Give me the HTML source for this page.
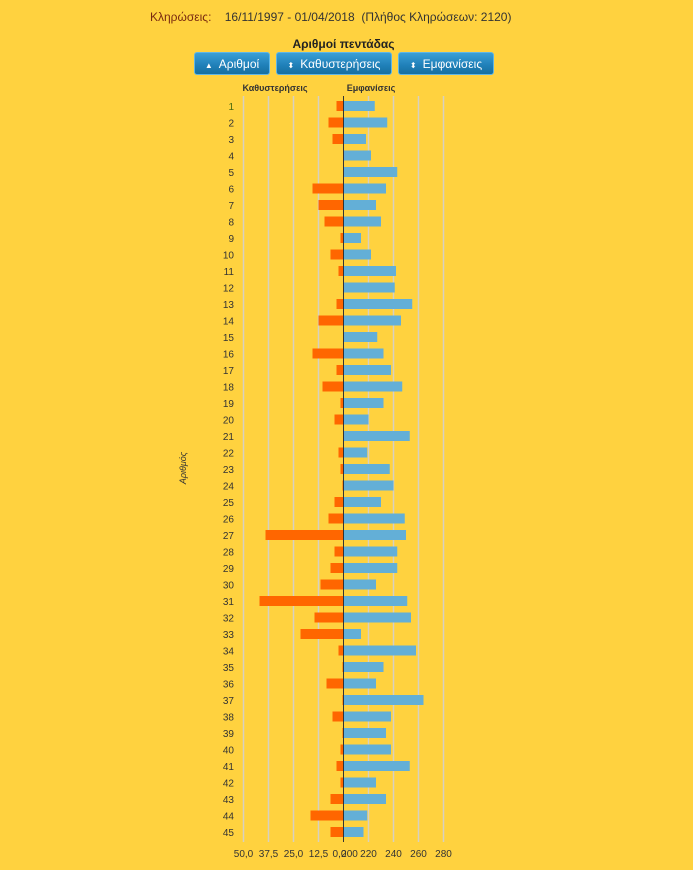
<!DOCTYPE html>
<html><head><meta charset="utf-8">
<style>
body{margin:0;background:#FFD23F;font-family:"Liberation Sans","DejaVu Sans",sans-serif;}
#wrap{position:relative;width:693px;height:870px;overflow:hidden;background:#FFD23F;}
.btn{position:absolute;top:52px;height:23px;border-radius:3px;background:linear-gradient(#3a9fd6,#1f7fb8 60%,#17709f);border:1px solid #5fb6e6;color:#fff;font-size:12px;line-height:23px;text-align:center;box-sizing:border-box;}
.btn span{font-size:8px;margin-right:6px;}
</style></head><body>
<div id="wrap">
<div style="position:absolute;left:150px;top:10px;font-size:12px;color:#333;white-space:pre;"><span style="color:#7a2a10">Κληρώσεις:</span>    16/11/1997 - 01/04/2018  (Πλήθος Κληρώσεων: 2120)</div>
<div style="position:absolute;left:0;width:687px;top:37px;text-align:center;font-size:12px;font-weight:bold;color:#222;">Αριθμοί πεντάδας</div>
<div class="btn" style="left:194px;width:76px;"><span>▲</span>Αριθμοί</div>
<div class="btn" style="left:276px;width:116px;"><span>⬍</span>Καθυστερήσεις</div>
<div class="btn" style="left:398px;width:96px;"><span>⬍</span>Εμφανίσεις</div>
<svg id="chart" width="693" height="870" style="position:absolute;left:0;top:0"></svg>
</div>
<script>
const numbers=[];for(let i=1;i<=45;i++)numbers.push(String(i));
const delays=[3.5,7.5,5.5,0,0,15.5,12.5,9.5,1.5,6.5,2.5,0,3.5,12.5,0,15.5,3.5,10.5,1.5,4.5,0,2.5,1.5,0.5,4.5,7.5,39,4.5,6.5,11.5,42,14.5,21.5,2.5,0.5,8.5,0.5,5.5,0.5,1.5,3.5,1.5,6.5,16.5,6.5];
const appearances=[225,235,218,222,243,234,226,230,214,222,242,241,255,246,227,232,238,247,232,220,253,219,237,240,230,249,250,243,243,226,251,254,214,258,232,226,264,238,234,238,253,226,234,219,216];
const delayTicks=["50,0","37,5","25,0","12,5","0,0"];
const delayTickVals=[50,37.5,25,12.5,0];
const appTicks=["200","220","240","260","280"];
const appTickVals=[200,220,240,260,280];
const NS="http://www.w3.org/2000/svg";
const svg=document.getElementById('chart');
const X0=343.5,top0=106,step=16.5,bh=10;
function xDelay(v){return X0-v*2;}
function xApp(v){return X0+(v-200)*1.25;}
function yRow(i){return top0+i*step;}
function mk(t,a){const e=document.createElementNS(NS,t);for(const k in a)e.setAttribute(k,a[k]);svg.appendChild(e);return e;}
// grid
delayTickVals.forEach((v,i)=>{
 if(v>0){const l=mk('line',{x1:xDelay(v),x2:xDelay(v),y1:96,y2:842,stroke:'#d8d0c0','stroke-width':1.5});
 
 }
 const t=mk('text',{x:xDelay(v)-(v===0?4:0),y:857,'font-size':10,'text-anchor':'middle',fill:'#333'});t.textContent=delayTicks[i];
 
 
});
appTickVals.forEach((v,i)=>{
 if(v>200){const l=mk('line',{x1:xApp(v),x2:xApp(v),y1:96,y2:842,stroke:'#d8d0c0','stroke-width':1.5});
 
 }
 const t=mk('text',{x:xApp(v)+(v===200?6:0),y:857,'font-size':10,'text-anchor':'middle',fill:'#333'});t.textContent=appTicks[i];
 
 
});
numbers.forEach((n,i)=>{
 const y=yRow(i);
 const d=delays[i];
 if(d>0){const r=mk('rect',{x:xDelay(d),y:y-bh/2,width:X0-xDelay(d),height:bh,fill:'#FF6600'});
 
 }
 const a=appearances[i];
 const r2=mk('rect',{x:X0,y:y-bh/2,width:xApp(a)-X0,height:bh,fill:'#63AFD7'});
 
 
 const t=mk('text',{x:234,y:y+4,'font-size':10,'text-anchor':'end',fill:i===0?'#4a6a10':'#333'});t.textContent=n;
 
 
});
const ax=mk('line',{x1:X0,x2:X0,y1:96,y2:842,stroke:'#333','stroke-width':1});


const h1=mk('text',{x:275,y:91,'font-size':9,'font-weight':'bold','text-anchor':'middle',fill:'#333'});h1.textContent='Καθυστερήσεις';


const h2=mk('text',{x:371,y:91,'font-size':9,'font-weight':'bold','text-anchor':'middle',fill:'#333'});h2.textContent='Εμφανίσεις';


const yt=mk('text',{x:0,y:0,'font-size':9,'font-style':'italic','text-anchor':'middle',fill:'#333',transform:'translate(186,468) rotate(-90)'});yt.textContent='Αριθμός';


</script>
</body></html>
